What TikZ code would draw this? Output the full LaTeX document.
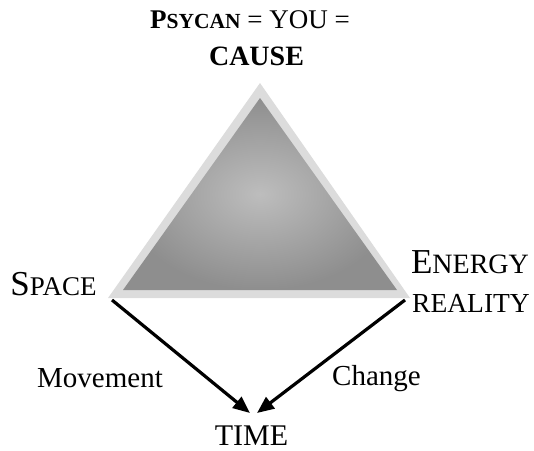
\documentclass[tikz,border=0pt]{standalone}
\usepackage{fontspec}
\setmainfont{Liberation Serif}
\usetikzlibrary{arrows.meta}

\newcommand{\fsz}[1]{\fontsize{#1}{#1}\selectfont}
\definecolor{rimgray}{HTML}{DCDCDC}
\definecolor{facegray}{HTML}{8E8E8E}
\definecolor{glowgray}{HTML}{BDBDBD}

\begin{document}
\begin{tikzpicture}[x=1pt, y=-1pt,
  lbl/.style={anchor=base, inner sep=0pt},
  arr/.style={line width=3.2pt, -{Triangle[length=17pt, width=14pt]}}]
  \useasboundingbox (0,0) rectangle (534,450);

  % outer rim and shaded face
  \coordinate (A) at (260,83);
  \coordinate (B) at (108,298);
  \coordinate (C) at (410,298);
  \fill[rimgray] (A)--(B)--(C)--cycle;
  \shade[inner color=glowgray, outer color=facegray]
    (260,98)--(123,290)--(397,290)--cycle;

  % labels
  \node[lbl] (title)  at (250,28) {\fsz{27}\textbf{P\fsz{21.5}SYCAN} = YOU =};
  \node[lbl] (cause)  at (256.5,65) {\fsz{28}\textbf{CAUSE}};
  \node[lbl] (space)  at (53.5,295) {\fsz{35}S\fsz{27}PACE};
  \node[lbl] (energy) at (470,273) {\fsz{35}E\fsz{28}NERGY};
  \node[lbl] (real)   at (471,312) {\fsz{27.5}REALITY};
  \node[lbl] (time)   at (251.5,445) {\fsz{30}TIME};
  \node[lbl] (move)   at (100,387) {\fsz{29}Movement};
  \node[lbl] (change) at (376.5,385) {\fsz{29}Change};

  % arrows down to TIME
  \coordinate (SL) at (112,300);
  \coordinate (SR) at (405,300);
  \coordinate (TL) at (250,413);
  \coordinate (TR) at (257,413);
  \draw[arr] (SL) -- (TL);
  \draw[arr] (SR) -- (TR);
\end{tikzpicture}
\end{document}
